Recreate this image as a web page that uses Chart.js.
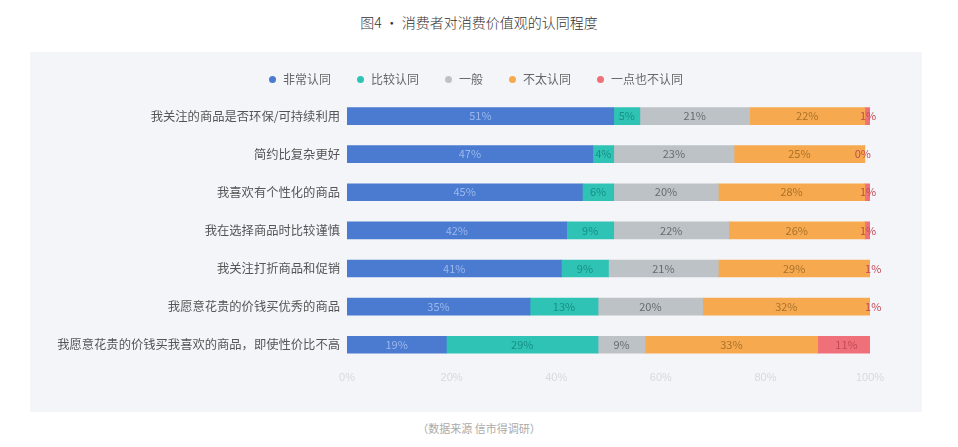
<!DOCTYPE html>
<html><head><meta charset="utf-8">
<script src="https://cdn.jsdelivr.net/npm/chart.js@4"></script>
<style>
html,body{margin:0;padding:0;background:#fff;width:958px;height:447px;overflow:hidden;font-family:"Noto Sans CJK SC","Noto Sans",sans-serif;}
#title{position:absolute;left:0;top:12px;width:958px;text-align:center;font-size:14px;font-weight:300;color:#333;line-height:20px;}
#panel{position:absolute;left:30px;top:52px;width:892px;height:360px;background:#f4f5f9;}
#legend{position:absolute;left:0;top:19px;width:892px;display:flex;justify-content:center;align-items:center;font-size:12px;color:#666;line-height:16px;}
#legend .it{display:flex;align-items:center;margin:0 13px;}
#legend .mk{width:7px;height:7px;border-radius:50%;margin-right:7px;}
#c{position:absolute;left:0;top:0;}
#foot{position:absolute;left:0;top:419px;width:958px;text-align:center;font-size:11px;color:#aaa;line-height:18px;}
</style></head><body>
<div id="title">图4 · 消费者对消费价值观的认同程度</div>
<div id="panel"><canvas id="c" width="892" height="360"></canvas><div id="legend"></div></div>
<div id="foot">（数据来源 信市得调研）</div>
<script>
const categories = ["我关注的商品是否环保/可持续利用","简约比复杂更好","我喜欢有个性化的商品","我在选择商品时比较谨慎","我关注打折商品和促销","我愿意花贵的价钱买优秀的商品","我愿意花贵的价钱买我喜欢的商品，即使性价比不高"];
const seriesNames = ["非常认同","比较认同","一般","不太认同","一点也不认同"];
const veryAgree   = [51,47,45,42,41,35,19];
const agree       = [5,4,6,9,9,13,29];
const neutral     = [21,23,20,22,21,20,9];
const disagree    = [22,25,28,26,29,32,33];
const notAtAll    = [1,0,1,1,1,1,11];
const xTicks = ["0%","20%","40%","60%","80%","100%"];

const colors = ["#4a7bd0","#2fc3b5","#bdc2c6","#f7a94f","#f07079"];
const labelColors = ["#9bb8ec","#178f85","#666b70","#a8722a","#c24a55"];
const values = [veryAgree,agree,neutral,disagree,notAtAll];

// HTML legend built from series names
const lg = document.getElementById('legend');
seriesNames.forEach((n,i)=>{
  const it=document.createElement('div');it.className='it';
  const mk=document.createElement('span');mk.className='mk';mk.style.background=colors[i];
  const tx=document.createElement('span');tx.textContent=n;
  it.appendChild(mk);it.appendChild(tx);lg.appendChild(it);
});

const labelPlugin = {
  id:'segLabels',
  afterDatasetsDraw(chart){
    const ctx = chart.ctx;
    ctx.save();
    ctx.font = '11px "Noto Sans CJK SC","Noto Sans",sans-serif';
    ctx.textAlign='center';ctx.textBaseline='middle';
    chart.data.datasets.forEach((ds,di)=>{
      const meta = chart.getDatasetMeta(di);
      meta.data.forEach((bar,i)=>{
        const v = ds.data[i];
        let cx = (bar.x + bar.base)/2;
        if (v<=1) cx = Math.max(bar.x,bar.base)-2;
        ctx.fillStyle = labelColors[di];
        ctx.fillText(v+"%", cx, bar.y);
      });
    });
    ctx.restore();
  }
};

new Chart(document.getElementById('c'),{
  type:'bar',
  data:{labels:categories,datasets:seriesNames.map((n,i)=>({label:n,data:values[i],backgroundColor:colors[i],borderWidth:0,barThickness:17}))},
  options:{
    indexAxis:'y',responsive:false,animation:false,
    layout:{padding:{left:0,right:52,top:45,bottom:27}},
    plugins:{legend:{display:false},tooltip:{enabled:false}},
    scales:{
      x:{stacked:true,min:0,max:100,grid:{display:false},border:{display:false},
        ticks:{stepSize:20,padding:0,color:'#d6d9de',font:{size:11},callback:(v,i)=>xTicks[i]}},
      y:{stacked:true,grid:{display:false,drawTicks:false},border:{display:false},
        afterFit:(s)=>{s.width=317;},
        ticks:{color:'#555',padding:7,font:{size:12.3,family:'"Noto Sans CJK SC","Noto Sans",sans-serif'}}}
    }
  },
  plugins:[labelPlugin]
});
</script>
</body></html>
